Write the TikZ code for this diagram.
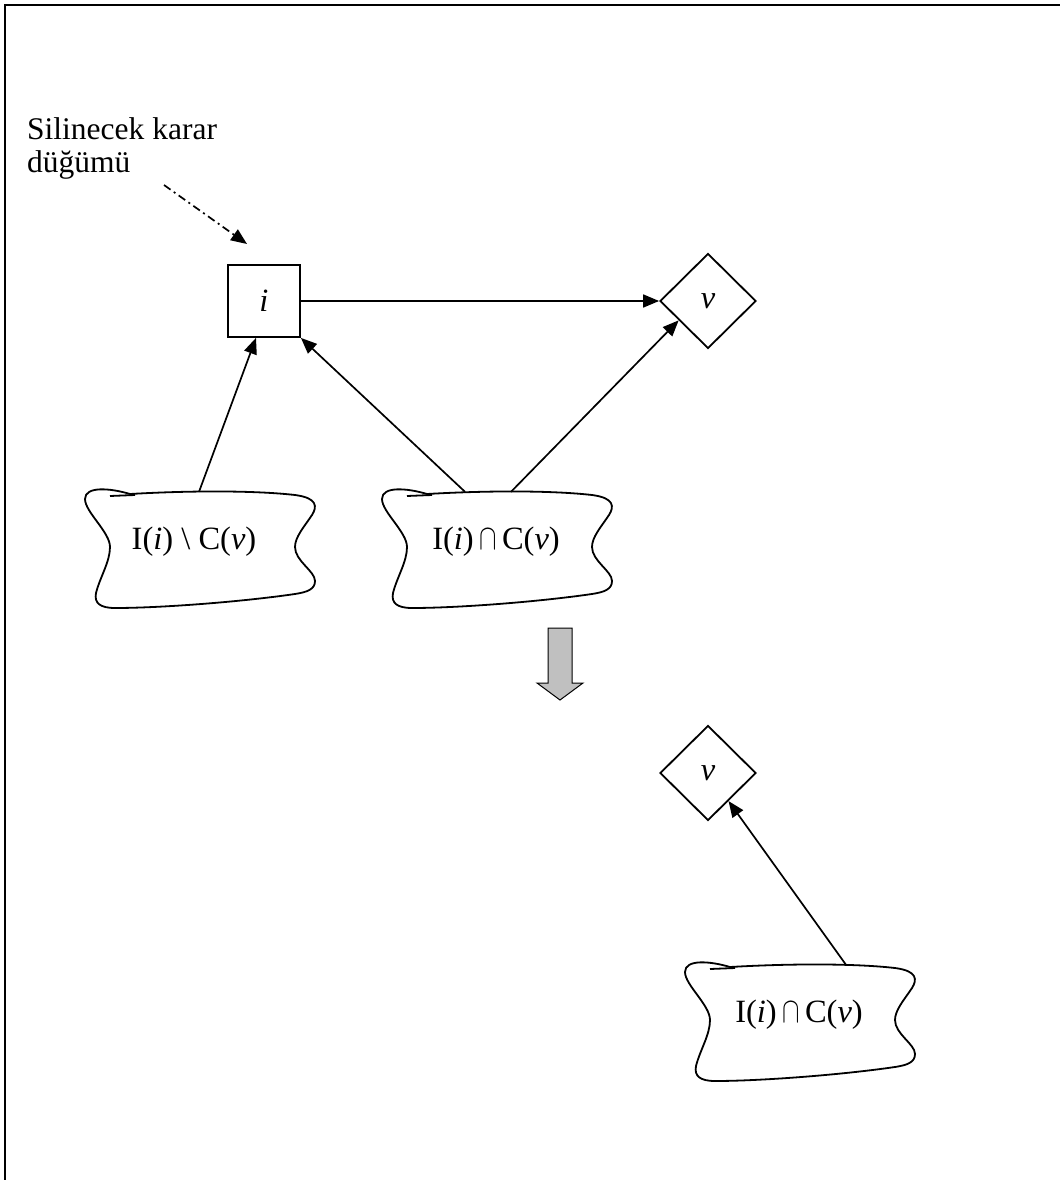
\documentclass[tikz,border=0pt]{standalone}
\usepackage{fontspec}
\usepackage{graphicx}
\setmainfont{Liberation Serif}
\usetikzlibrary{arrows.meta,shapes.geometric,calc}

\definecolor{blockgray}{RGB}{192,192,192}

% wavy outline drawn around a named text node, offset by (#2,#3)
\newcommand\wavyoutline[3]{%
  \begin{scope}[shift={($(#1.center)+(#2,#3)$)}]
    \draw[blobline] (-70,-53) .. controls (0,-57) and (60,-56) .. (95,-52)
      .. controls (118,-49) and (117,-40) .. (112,-32)
      .. controls (104,-20) and (95,-10) .. (95,0)
      .. controls (95,14) and (115,24) .. (115,34)
      .. controls (115,42) and (108,45) .. (95,47)
      .. controls (40,55) and (-40,61) .. (-85,61)
      .. controls (-100,61) and (-106,56) .. (-104,46)
      .. controls (-100,30) and (-90,15) .. (-90,0)
      .. controls (-90,-15) and (-115,-35) .. (-115,-48)
      .. controls (-115,-61) and (-90,-59) .. (-70,-53);
    \draw[blobline] (-90,-51) -- (-65,-52);
  \end{scope}}

\newcommand\capsym{\,\scalebox{1.05}[1.45]{$\cap$}\,}

\begin{document}
\begin{tikzpicture}[x=1pt,y=-1pt,
  lbl/.style={font=\fontsize{32.5}{38}\selectfont},
  decision/.style={draw, rectangle, line width=1.8pt, minimum size=72pt, inner sep=0pt, lbl},
  utility/.style={draw, diamond, line width=1.8pt, minimum width=96pt, minimum height=95pt, inner sep=0pt, lbl},
  blobtext/.style={minimum width=200pt, minimum height=100pt, inner sep=0pt, lbl},
  blobline/.style={line width=1.8pt, line join=round},
  edge/.style={line width=1.7pt, -{Triangle[length=16pt,width=13pt]}},
  hint/.style={line width=1.7pt, dash pattern=on 8pt off 4pt on 2pt off 4pt, -{Triangle[length=16pt,width=13pt]}},
  frameline/.style={line width=2pt}]

\useasboundingbox (0,0) rectangle (1060,1180);

% page frame
\draw[frameline] (5,1180) -- (5,5.5) -- (1060,5.5);

% annotation
\node[anchor=north west, align=left, inner sep=0pt, font=\fontsize{31.5}{33}\selectfont] (note) at (27,117) {Silinecek karar\\düğümü};
\coordinate (hs) at (164,185);
\coordinate (ht) at (247,244);
\draw[hint] (hs) -- (ht);

% upper graph
\node[decision] (i) at (264,301) {\textit{i}};
\node[utility] (v) at (708,301) {\textit{v}};
\node[blobtext] (b1) at (194,542) {I(\textit{i}) \textbackslash{} C(\textit{v})};
\node[blobtext] (b2) at (496,542) {I(\textit{i})\capsym C(\textit{v})};
\wavyoutline{b1}{6}{5}
\wavyoutline{b2}{1}{5}

\draw[edge] (i.east) -- (v.west);
\draw[edge] ([xshift=5pt]b1.north) -- ([xshift=-8pt]i.south);
\draw[edge] ([xshift=-31pt]b2.north) -- (i.south east);
\draw[edge] ([xshift=15pt]b2.north) -- ($(v.west)!0.4!(v.south)$);

% transition arrow
\draw[line width=1pt, fill=blockgray, line join=miter]
  (548,628) -- (572,628) -- (572,683) -- (583,683) -- (560,700) -- (537,683) -- (548,683) -- cycle;

% lower graph
\node[utility] (v2) at (708,773) {\textit{v}};
\node[blobtext] (b3) at (799,1015) {I(\textit{i})\capsym C(\textit{v})};
\wavyoutline{b3}{1}{5}
\draw[edge] ([xshift=47pt]b3.north) -- ($(v2.east)!0.58!(v2.south)$);

\end{tikzpicture}
\end{document}
